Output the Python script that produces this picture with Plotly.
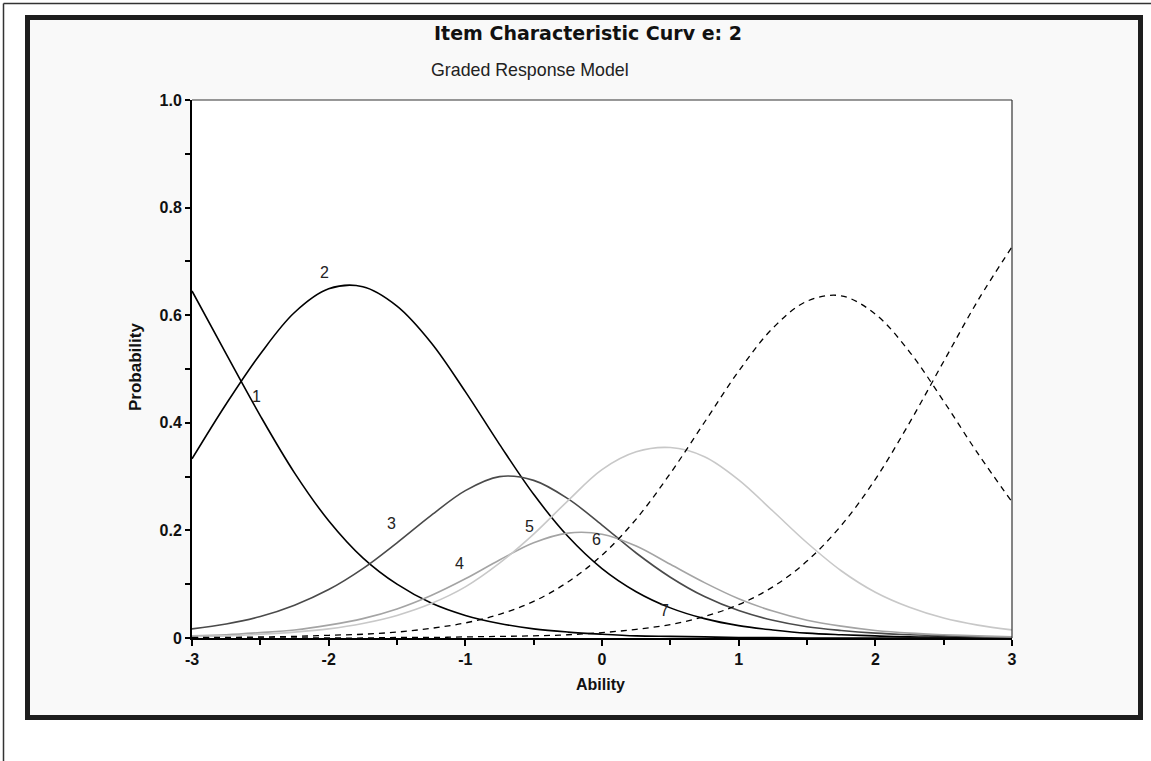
import plotly.graph_objects as go

# ---------------- data ----------------
theta = [-3.0, -2.75, -2.5, -2.25, -2.0, -1.75, -1.5, -1.25, -1.0, -0.75, -0.5, -0.25,
         0.0, 0.25, 0.5, 0.75, 1.0, 1.25, 1.5, 1.75, 2.0, 2.25, 2.5, 2.75, 3.0]

p1 = [0.645, 0.528, 0.413, 0.307, 0.218, 0.149, 0.100, 0.065, 0.042, 0.027, 0.017, 0.011,
      0.007, 0.004, 0.003, 0.002, 0.001, 0.001, 0.000, 0.000, 0.000, 0.000, 0.000, 0.000, 0.000]
p2 = [0.333, 0.435, 0.528, 0.605, 0.649, 0.653, 0.617, 0.549, 0.458, 0.360, 0.267, 0.189,
      0.129, 0.086, 0.056, 0.036, 0.023, 0.015, 0.009, 0.006, 0.004, 0.002, 0.002, 0.001, 0.001]
p3 = [0.017, 0.026, 0.040, 0.061, 0.090, 0.129, 0.177, 0.228, 0.274, 0.300, 0.293, 0.259,
      0.210, 0.158, 0.113, 0.077, 0.051, 0.033, 0.021, 0.014, 0.009, 0.006, 0.004, 0.002, 0.001]
p4 = [0.004, 0.006, 0.010, 0.015, 0.024, 0.036, 0.054, 0.079, 0.110, 0.145, 0.177, 0.195,
      0.193, 0.171, 0.137, 0.103, 0.073, 0.050, 0.033, 0.022, 0.014, 0.009, 0.006, 0.004, 0.002]
p5 = [0.003, 0.004, 0.007, 0.011, 0.017, 0.027, 0.042, 0.064, 0.095, 0.139, 0.193, 0.255,
      0.313, 0.346, 0.354, 0.337, 0.294, 0.236, 0.177, 0.125, 0.085, 0.057, 0.037, 0.024, 0.015]
p6 = [0.001, 0.001, 0.002, 0.003, 0.005, 0.007, 0.011, 0.018, 0.028, 0.044, 0.068, 0.104,
      0.154, 0.221, 0.306, 0.401, 0.496, 0.576, 0.626, 0.636, 0.602, 0.532, 0.440, 0.343, 0.253]
p7 = [0.000, 0.000, 0.000, 0.000, 0.000, 0.000, 0.001, 0.001, 0.002, 0.003, 0.004, 0.006,
      0.010, 0.016, 0.025, 0.040, 0.062, 0.095, 0.143, 0.209, 0.295, 0.400, 0.514, 0.627, 0.727]

series = [p1, p2, p3, p4, p5, p6, p7]
category_names = ["1", "2", "3", "4", "5", "6", "7"]

# curve number labels as placed in the picture
label_text = ["1", "2", "3", "4", "5", "6", "7"]
label_x = [-2.53, -2.03, -1.54, -1.04, -0.53, -0.04, 0.46]
label_y = [0.449, 0.679, 0.212, 0.138, 0.207, 0.184, 0.051]

x_tickvals = [-3, -2, -1, 0, 1, 2, 3]
x_ticktext = ["-3", "-2", "-1", "0", "1", "2", "3"]
y_tickvals = [0, 0.2, 0.4, 0.6, 0.8, 1.0]
y_ticktext = ["0", "0.2", "0.4", "0.6", "0.8", "1.0"]

title_text = "Item Characteristic Curv e: 2"
subtitle_text = "Graded Response Model"
x_title = "Ability"
y_title = "Probability"

# ---------------- styles ----------------
colors = ["#000000", "#000000", "#4a4a4a", "#a4a4a4", "#c8c8c8", "#000000", "#000000"]
dashes = ["solid", "solid", "solid", "solid", "solid", "6px,5px", "6px,5px"]
widths = [1.6, 1.6, 1.6, 1.6, 1.6, 1.3, 1.3]

W, H = 1151, 761
L, R, T, B = 192, 1012, 100, 638   # plot area in pixels
FONT = "Liberation Sans, Arial, Helvetica, sans-serif"


def px(x):
    return (x - L) / (R - L)


def py(y):
    return (B - y) / (B - T)


fig = go.Figure()
for i, ys in enumerate(series):
    fig.add_trace(go.Scatter(
        x=theta, y=ys, mode="lines", name=category_names[i],
        line=dict(color=colors[i], width=widths[i], dash=dashes[i], shape="spline", smoothing=1.0),
        showlegend=False, hoverinfo="x+y+name",
    ))

annotations = []
for t, lx, ly in zip(label_text, label_x, label_y):
    annotations.append(dict(x=lx, y=ly, xref="x", yref="y", text=t, showarrow=False,
                            font=dict(family=FONT, size=16, color="#222222"),
                            xanchor="center", yanchor="middle"))

annotations += [
    dict(x=px(588), y=py(33), xref="paper", yref="paper", text=title_text, showarrow=False,
         font=dict(family="DejaVu Sans, Liberation Sans, sans-serif", size=19, color="#111111", weight="bold"),
         xanchor="center", yanchor="middle"),
    dict(x=px(429), y=py(70), xref="paper", yref="paper", text=subtitle_text, showarrow=False,
         font=dict(family=FONT, size=17.8, color="#222222"),
         xanchor="left", yanchor="middle"),
    dict(x=px(600), y=py(684), xref="paper", yref="paper", text=x_title, showarrow=False,
         font=dict(family=FONT, size=16, color="#111111", weight="bold"),
         xanchor="center", yanchor="middle"),
    dict(x=px(135), y=py(367), xref="paper", yref="paper", text=y_title, showarrow=False,
         textangle=-90,
         font=dict(family=FONT, size=17, color="#111111", weight="bold"),
         xanchor="center", yanchor="middle"),
]

shapes = [
    # thin outer page lines (left and top)
    dict(type="line", xref="paper", yref="paper", x0=px(3.5), x1=px(3.5), y0=py(761), y1=py(3.5),
         line=dict(color="#333333", width=1.5), layer="below"),
    dict(type="line", xref="paper", yref="paper", x0=px(3.5), x1=px(1151), y0=py(3.5), y1=py(3.5),
         line=dict(color="#333333", width=1.5), layer="below"),
    # thick chart frame
    dict(type="rect", xref="paper", yref="paper", x0=px(27.5), x1=px(1140.5), y0=py(717.5), y1=py(17.5),
         line=dict(color="#1e1e1e", width=5), fillcolor="#f9f9f9", layer="below"),
    # white plotting area
    dict(type="rect", xref="paper", yref="paper", x0=0, x1=1, y0=0, y1=1,
         line=dict(width=0), fillcolor="#ffffff", layer="below"),
    # thin top and right borders of the plotting area
    dict(type="line", xref="paper", yref="paper", x0=0, x1=1, y0=1, y1=1,
         line=dict(color="#333333", width=1.2)),
    dict(type="line", xref="paper", yref="paper", x0=1, x1=1, y0=0, y1=1,
         line=dict(color="#333333", width=1.2)),
]

tickfont = dict(family=FONT, size=16, color="#111111", weight="bold")

fig.update_layout(
    width=W, height=H, autosize=False,
    margin=dict(l=L, r=W - R, t=T, b=H - B, pad=0),
    paper_bgcolor="#ffffff", plot_bgcolor="#ffffff",
    annotations=annotations, shapes=shapes,
    xaxis=dict(range=[-3, 3], tickmode="array", tickvals=x_tickvals, ticktext=x_ticktext,
               ticks="outside", ticklen=6, tickwidth=2, tickcolor="#000000",
               showline=True, linewidth=2, linecolor="#000000",
               showgrid=False, zeroline=False, tickfont=tickfont,
               minor=dict(tickmode="array", tickvals=[-2.5, -1.5, -0.5, 0.5, 1.5, 2.5],
                          ticks="outside", ticklen=5, tickwidth=2, tickcolor="#000000", showgrid=False)),
    yaxis=dict(range=[0, 1], tickmode="array", tickvals=y_tickvals, ticktext=y_ticktext,
               ticks="outside", ticklen=5, tickwidth=2, tickcolor="#000000",
               showline=True, linewidth=2, linecolor="#000000",
               showgrid=False, zeroline=False, tickfont=tickfont,
               minor=dict(tickmode="array", tickvals=[0.1, 0.3, 0.5, 0.7, 0.9],
                          ticks="outside", ticklen=5, tickwidth=2, tickcolor="#000000", showgrid=False)),
)

fig.write_html("out.html")
